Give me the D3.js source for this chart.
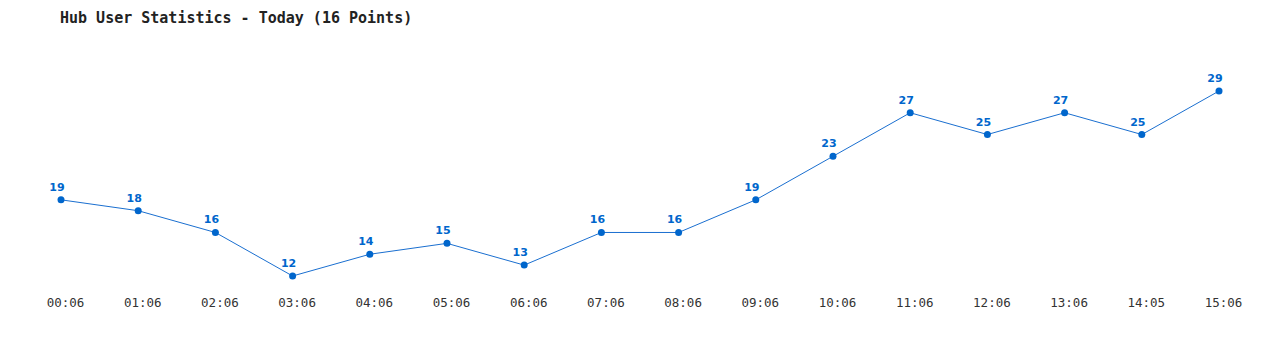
<!DOCTYPE html>
<html>
<head>
<meta charset="utf-8">
<script src="https://cdn.jsdelivr.net/npm/d3@7"></script>
<style>
  body { margin: 0; background: #fff; }
  svg { display: block; }
</style>
</head>
<body>
<div id="chart"></div>
<script>
const times = ["00:06", "01:06", "02:06", "03:06", "04:06", "05:06", "06:06", "07:06",
               "08:06", "09:06", "10:06", "11:06", "12:06", "13:06", "14:05", "15:06"];
const users = [19, 18, 16, 12, 14, 15, 13, 16, 16, 19, 23, 27, 25, 27, 25, 29];

const svg = d3.select("#chart")
  .append("svg")
  .attr("width", 1280)
  .attr("height", 350);

svg.append("text")
  .attr("x", 60)
  .attr("y", 23)
  .style("font-family", "'DejaVu Sans Mono', monospace")
  .style("font-size", "15px")
  .style("font-weight", "bold")
  .attr("fill", "#222")
  .text("Hub User Statistics - Today (16 Points)");

const x = d3.scalePoint()
  .domain(times)
  .range([61, 1219]);

const y = d3.scaleLinear()
  .domain([12, 29])
  .range([276, 91]);

const line = d3.line()
  .x((d, i) => x(times[i]))
  .y(d => y(d));

svg.append("path")
  .datum(users)
  .attr("d", line)
  .attr("fill", "none")
  .attr("stroke", "#1a6fd0")
  .attr("stroke-width", 1);

svg.selectAll("circle")
  .data(users)
  .enter()
  .append("circle")
  .attr("cx", (d, i) => x(times[i]))
  .attr("cy", d => y(d))
  .attr("r", 3.5)
  .attr("fill", "#0066cc");

// value labels sit a little left of the point
svg.selectAll("text.val")
  .data(users)
  .enter()
  .append("text")
  .attr("class", "val")
  .attr("x", (d, i) => x(times[i]) - 4)
  .attr("y", d => y(d) - 9)
  .attr("text-anchor", "middle")
  .style("font-family", "Verdana, 'DejaVu Sans', sans-serif")
  .style("font-size", "11px")
  .style("font-weight", "bold")
  .attr("fill", "#0066cc")
  .text(d => d);

// X Axis labels (shifted right a bit like the original)
const xAxis = svg.append("g")
  .attr("transform", "translate(4,298)")
  .call(d3.axisBottom(x).tickSize(0).tickPadding(0));
xAxis.select(".domain").remove();
xAxis.selectAll("text")
  .style("font-family", "'DejaVu Sans Mono', monospace")
  .style("font-size", "12.5px")
  .attr("fill", "#333");
</script>
</body>
</html>
